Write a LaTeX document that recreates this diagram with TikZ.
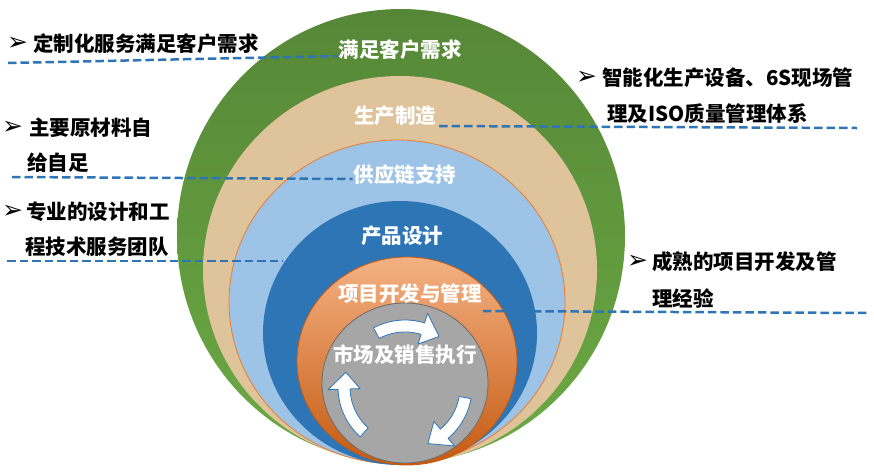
\documentclass[tikz,border=0pt]{standalone}
\usepackage{fontspec}
\newfontfamily\cjk{Noto Sans CJK SC}
\newfontfamily\sym{DejaVu Sans}
\usetikzlibrary{positioning}
\definecolor{ringGreen}{HTML}{568737}
\definecolor{ringGreenLt}{HTML}{6CAA44}
\definecolor{ringTan}{HTML}{DFC39B}
\definecolor{ringSky}{HTML}{9DC3E6}
\definecolor{ringBlue}{HTML}{2E75B6}
\definecolor{ringOrangeLt}{HTML}{F4B183}
\definecolor{ringOrange}{HTML}{EF8A3E}
\definecolor{ringOrangeDk}{HTML}{C55A11}
\definecolor{ringEdge}{HTML}{ED7D31}
\definecolor{ringGray}{HTML}{A6A6A6}
\definecolor{leadBlue}{HTML}{2E75B6}
\tikzset{
  ringlabel/.style={font=\cjk\bfseries\fontsize{20.5}{24}\selectfont, text=white, inner sep=0pt},
  point/.style={font=\cjk\bfseries\fontsize{20.5}{24}\selectfont, anchor=west, inner sep=0pt},
  pointer/.style={font=\sym\fontsize{25}{25}\selectfont, anchor=west, inner sep=0pt},
  leader/.style={draw=leadBlue, line width=2.5pt, dash pattern=on 8.5pt off 4pt},
  loopArrow/.style={fill=white, draw=ringBlue, line width=0.8pt, line join=round}
}
% curved white arrow round the inner disc: tail angle, head base angle, tip angle
\newcommand{\cycarrow}[3]{%
  \filldraw[loopArrow] plot[domain=#1:#2,samples=24] ({405+67*cos(\x)},{387+67*sin(\x)})
    -- ({405+77*cos(#2)},{387+77*sin(#2)})
    -- ({405+61*cos(#3)},{387+61*sin(#3)})
    -- ({405+45*cos(#2)},{387+45*sin(#2)})
    -- plot[domain=#1:#2,samples=24] ({405+55*cos(#1+#2-\x)},{387+55*sin(#1+#2-\x)}) -- cycle;}

\begin{document}
\begin{tikzpicture}[x=1pt,y=-1pt]
  \useasboundingbox (0,0) rectangle (874,472);
  % rings, outer to inner
  \shade[top color=ringGreen, bottom color=ringGreenLt] (401,236) ellipse [x radius=224pt, y radius=227pt];
  \fill[ringTan] (400,270) ellipse [x radius=197pt, y radius=194pt];
  \filldraw[fill=ringSky, draw=ringEdge, line width=0.8pt] (397,302) ellipse [x radius=168pt, y radius=162pt];
  \fill[ringBlue] (400,333) ellipse [x radius=137pt, y radius=132pt];
  \shadedraw[top color=ringOrangeLt, middle color=ringOrange, bottom color=ringOrangeDk, draw=ringOrangeDk, line width=0.8pt] (407,361) ellipse [x radius=110pt, y radius=104pt];
  \filldraw[fill=ringGray, draw=gray!85!black, line width=0.8pt] (405,383) ellipse [x radius=83pt, y radius=80pt];

  \cycarrow{-118}{-73}{-56}
  \cycarrow{10}{50}{68}
  \cycarrow{132}{178}{194}

  \node[ringlabel] (need) at (400,50) {满足客户需求};
  \node[ringlabel] (make) at (395,116) {生产制造};
  \node[ringlabel] (supply) at (405,175) {供应链支持};
  \node[ringlabel] (design) at (402,236) {产品设计};
  \node[ringlabel] (project) at (410,294) {项目开发与管理};
  \node[ringlabel] (market) at (405,355) {市场及销售执行};

  % side notes
  \foreach \x/\y/\t [count=\i] in {33/44/定制化服务满足客户需求,29/128/主要原材料自,27/163/给自足,26/212/专业的设计和工,25/247/程技术服务团队,602/78/智能化生产设备、6S现场管,607/114/理及ISO质量管理体系,652/262/成熟的项目开发及管,652/298/理经验}
    \node[point] (pt\i) at (\x,\y) {\t};
  \foreach \x/\y [count=\i] in {7/44,2/128,2/212,576/78,627/262}
    \node[pointer] (tk\i) at (\x,\y) {➢};

  % dashed leaders
  \coordinate (l1) at (8,63);
  \coordinate (l2) at (12,177);
  \coordinate (l3) at (7,261);
  \coordinate (l3e) at (283,261);
  \coordinate (r1) at (857,128);
  \coordinate (r2) at (868,313);
  \draw[leader] (l1) -- ([xshift=-1pt,yshift=-6pt]need.west);
  \draw[leader] (l2) -- ([xshift=-1pt,yshift=-4pt]supply.west);
  \draw[leader] (l3) -- (l3e);
  \draw[leader] ([xshift=3pt,yshift=-10pt]make.east) -- (r1);
  \draw[leader] ([xshift=1pt,yshift=-17pt]project.east) -- (r2);
\end{tikzpicture}
\end{document}
